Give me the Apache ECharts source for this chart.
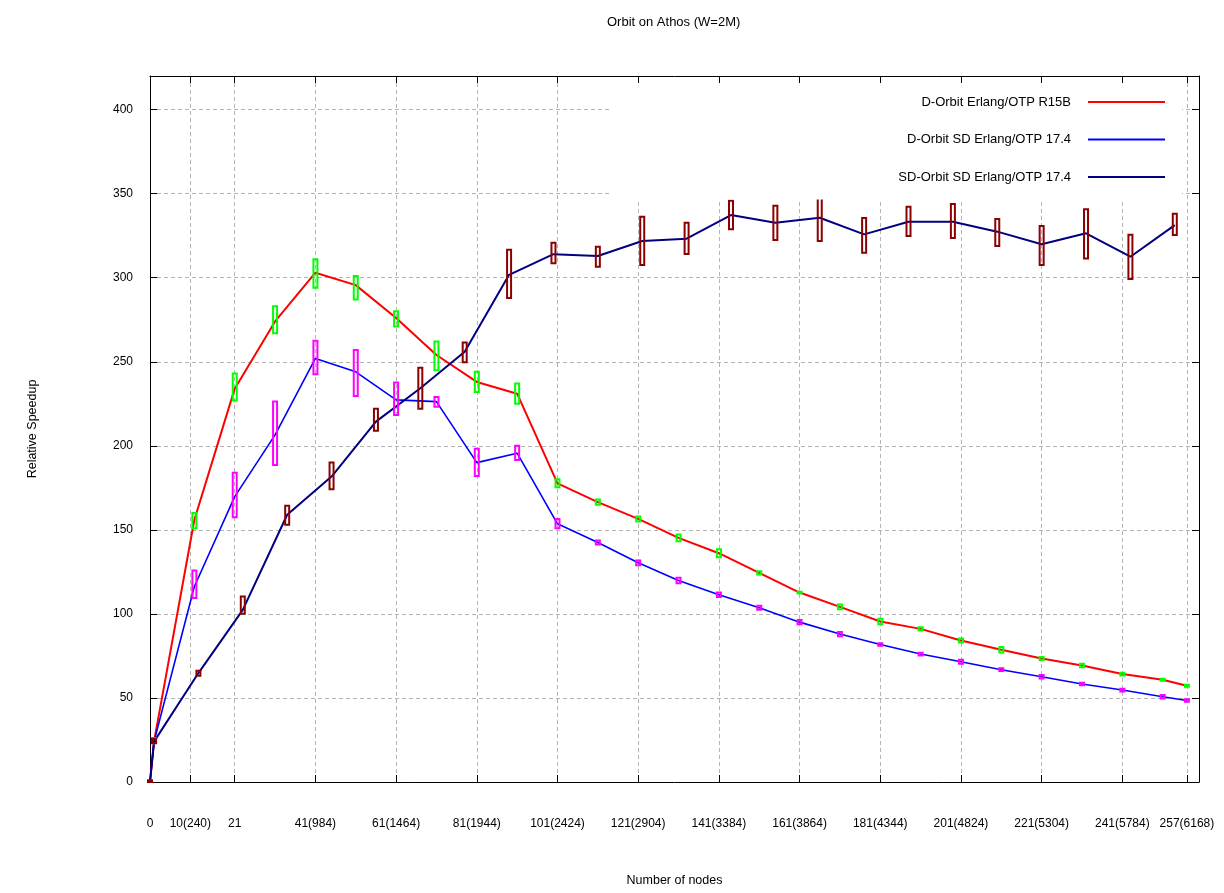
<!DOCTYPE html>
<html><head><meta charset="utf-8">
<script src="https://cdn.jsdelivr.net/npm/echarts@6/dist/echarts.min.js"></script>
<style>html,body{margin:0;padding:0;background:#fff}#c{width:1224px;height:893px}</style>
</head><body><div id="c"></div>
<script>
const chartTitle = 'Orbit on Athos (W=2M)';
const xAxisName = 'Number of nodes';
const yAxisName = 'Relative Speedup';
const xTickValues = [0, 10, 21, 41, 61, 81, 101, 121, 141, 161, 181, 201, 221, 241, 257];
const xTickLabels = ['0', '10(240)', '21', '41(984)', '61(1464)', '81(1944)', '101(2424)', '121(2904)', '141(3384)', '161(3864)', '181(4344)', '201(4824)', '221(5304)', '241(5784)', '257(6168)'];
const seriesNames = ['D-Orbit Erlang/OTP R15B', 'D-Orbit SD Erlang/OTP 17.4', 'SD-Orbit SD Erlang/OTP 17.4'];

// D-Orbit series (both share the node list)
const nodesD = [0, 1, 11, 21, 31, 41, 51, 61, 71, 81, 91, 101, 111, 121, 131, 141, 151, 161, 171, 181, 191, 201, 211, 221, 231, 241, 251, 257];
const speedupR15B = [0, 24, 156, 234, 274, 303, 295.6, 276, 254, 238, 231, 177.7, 166.5, 156.5, 145.2, 136.1, 124.4, 112.7, 104.2, 95.5, 91.1, 84.2, 78.7, 73.5, 69.3, 64.2, 60.8, 57.3];
const lowR15B  = [null, 23, 151, 227, 267, 294, 287, 271, 245, 232, 225, 175.3, 165, 155, 143.2, 133.7, 123.4, 112.2, 102.8, 93.9, 90.1, 83, 77.1, 72.6, 68.3, 63.4, 60.2, 56.7];
const highR15B = [null, 26, 160, 243, 283, 311, 301, 280, 262, 244, 237, 180.1, 168, 158, 147.2, 138.5, 125.4, 113.2, 105.6, 97.1, 92.1, 85.4, 80.3, 74.4, 70.3, 65, 61.4, 57.9];

const speedupSD = [0, 24, 116.3, 169.8, 206.5, 252, 244, 227.3, 226.3, 190, 195.6, 153.6, 142.5, 130.4, 119.9, 111.4, 103.6, 95.1, 88, 81.8, 76.1, 71.5, 66.8, 62.6, 58.3, 54.7, 50.7, 48.5];
const lowSD  = [null, 23, 109.4, 157.5, 188.6, 242.6, 229.7, 218.4, 223.3, 182.1, 191.6, 151, 141.3, 129, 118.3, 110, 102.4, 93.9, 86.7, 81, 75.3, 70.3, 66, 61.6, 57.5, 53.9, 49.7, 47.7];
const highSD = [null, 26, 125.8, 184, 226.3, 262.5, 257, 237.6, 229, 198.3, 200, 156.4, 143.7, 131.8, 121.5, 112.8, 104.8, 96.3, 89.3, 82.6, 76.9, 72.7, 67.6, 63.6, 59.1, 55.5, 51.7, 49.3];

// SD-Orbit series
const nodesSD = [0, 1, 12, 23, 34, 45, 56, 67, 78, 89, 100, 111, 122, 133, 144, 155, 166, 177, 188, 199, 210, 221, 232, 243, 254];
const speedupSDOrbit = [0, 24, 64.8, 102.4, 159, 181.7, 214.4, 234.2, 256, 301.7, 314, 312.9, 321.8, 323.2, 337.3, 332.7, 335.7, 325.8, 333.3, 333.3, 327.4, 319.9, 326.4, 312.5, 331.3];
const lowSDOrbit  = [0, 23.2, 63.2, 100.1, 153, 174.2, 208.9, 222, 249.7, 288, 308.6, 306.5, 307.6, 314.1, 328.8, 322.4, 321.8, 314.9, 324.8, 323.6, 318.8, 307.6, 311.5, 299.2, 325.4];
const highSDOrbit = [1, 25.6, 66.2, 110.4, 164.3, 190, 222, 246.5, 261.4, 316.6, 320.8, 318.4, 336.3, 332.7, 345.8, 342.8, 349.8, 335.5, 342.2, 343.8, 334.9, 330.7, 340.8, 325.6, 338];

const FONT = '"Liberation Sans", Arial, sans-serif';
const lineColors = ['#ff0000', '#0000ff', '#000080'];
const boxColors = ['#00ff00', '#ff00ff', '#8b0000'];

function pairs(xs, ys) { return xs.map((x, i) => [x, ys[i]]); }
function boxes(xs, lo, hi) {
  const out = [];
  xs.forEach((x, i) => { if (lo[i] != null && hi[i] != null) out.push([x, lo[i], hi[i]]); });
  return out;
}
function boxRender(color) {
  return function (params, api) {
    const x = api.value(0), lo = api.value(1), hi = api.value(2);
    const p1 = api.coord([x, hi]);
    const p2 = api.coord([x, lo]);
    const w = 4;
    return {
      type: 'rect',
      shape: { x: p1[0] - w / 2, y: p1[1], width: w, height: Math.max(p2[1] - p1[1], 1.5) },
      style: { fill: 'none', stroke: color, lineWidth: 2 }
    };
  };
}

const chart = echarts.init(document.getElementById('c'), null, { renderer: 'canvas' });
const gridStyle = { show: true, showMinLine: false, showMaxLine: false, lineStyle: { color: '#b4b4b4', type: [4, 3], width: 1 } };

chart.setOption({
  animation: false,
  backgroundColor: '#ffffff',
  title: {
    text: chartTitle, left: 602, top: 11,
    textStyle: { fontFamily: FONT, fontSize: 13, fontWeight: 'normal', color: '#000' }
  },
  legend: {
    data: seriesNames.map(n => ({ name: n, icon: 'rect' })),
    orient: 'vertical', align: 'right',
    right: 42, top: 76,
    itemWidth: 77, itemHeight: 2, itemGap: 24.5,
    padding: [19.5, 17, 16, 288],
    backgroundColor: '#ffffff',
    selectedMode: false,
    textStyle: { fontFamily: FONT, fontSize: 13, color: '#000', padding: [0, 12, 0, 0] }
  },
  grid: { left: 150, top: 76, width: 1049, height: 706, containLabel: false },
  xAxis: [{
    type: 'value', min: 0, max: 260, position: 'bottom',
    axisLine: { onZero: false, lineStyle: { color: '#000', width: 1 } },
    axisTick: { inside: true, length: 7, customValues: xTickValues, lineStyle: { color: '#000' } },
    axisLabel: {
      customValues: xTickValues, margin: 36, fontFamily: FONT, fontSize: 12, color: '#000',
      formatter: v => { const i = xTickValues.indexOf(v); return i >= 0 ? xTickLabels[i] : ''; }
    },
    splitLine: { show: true, showMinLine: false, lineStyle: { color: '#b4b4b4', type: [4, 3], width: 1 } },
    name: xAxisName, nameLocation: 'middle', nameGap: 92,
    nameTextStyle: { fontFamily: FONT, fontSize: 12.5, color: '#000' }
  }, {
    type: 'value', min: 0, max: 260, position: 'top', z: 5,
    axisLine: { onZero: false, lineStyle: { color: '#000', width: 1 } },
    axisTick: { inside: true, length: 7, customValues: xTickValues, lineStyle: { color: '#000' } },
    axisLabel: { show: false },
    splitLine: { show: false }
  }],
  yAxis: [{
    type: 'value', min: 0, max: 420, interval: 50, position: 'left',
    axisLine: { show: true, onZero: false, lineStyle: { color: '#000', width: 1 } },
    axisTick: { show: true, inside: true, length: 7, lineStyle: { color: '#000' } },
    axisLabel: {
      margin: 17, fontFamily: FONT, fontSize: 12, color: '#000',
      formatter: v => (v <= 400 ? String(v) : '')
    },
    splitLine: gridStyle,
    name: yAxisName, nameLocation: 'middle', nameGap: 111, nameRotate: 90,
    nameTextStyle: { fontFamily: FONT, fontSize: 12.5, color: '#000' }
  }, {
    type: 'value', min: 0, max: 420, interval: 50, position: 'right', z: 5,
    axisLine: { show: true, onZero: false, lineStyle: { color: '#000', width: 1 } },
    axisTick: { show: true, inside: true, length: 7, lineStyle: { color: '#000' } },
    axisLabel: { show: false },
    splitLine: { show: false }
  }],
  series: [
    { name: seriesNames[0], type: 'line', data: pairs(nodesD, speedupR15B), symbol: 'none', color: lineColors[0],
      lineStyle: { color: lineColors[0], width: 2 }, z: 2 },
    { name: seriesNames[1], type: 'line', data: pairs(nodesD, speedupSD), symbol: 'none', color: lineColors[1],
      lineStyle: { color: lineColors[1], width: 1.6 }, z: 2 },
    { name: seriesNames[2], type: 'line', data: pairs(nodesSD, speedupSDOrbit), symbol: 'none', color: lineColors[2],
      lineStyle: { color: lineColors[2], width: 2 }, z: 2 },
    { name: 'err1', type: 'custom', data: boxes(nodesD, lowR15B, highR15B), renderItem: boxRender(boxColors[0]), z: 3, clip: false },
    { name: 'err2', type: 'custom', data: boxes(nodesD, lowSD, highSD), renderItem: boxRender(boxColors[1]), z: 3, clip: false },
    { name: 'err3', type: 'custom', data: boxes(nodesSD, lowSDOrbit, highSDOrbit), renderItem: boxRender(boxColors[2]), z: 3, clip: false }
  ]
});
</script></body></html>
